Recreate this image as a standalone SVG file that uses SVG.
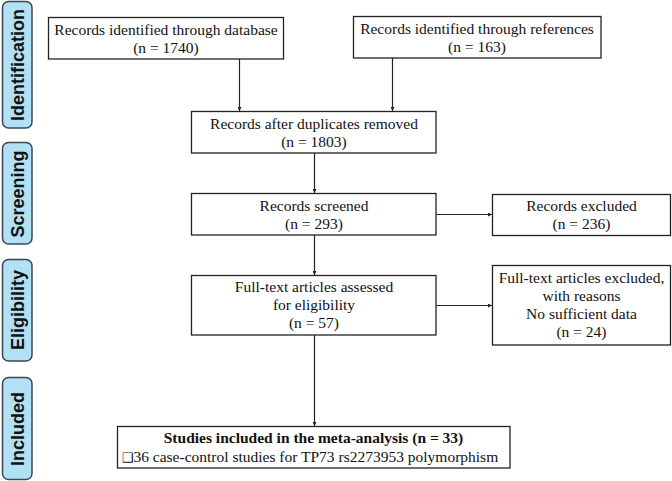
<svg xmlns="http://www.w3.org/2000/svg" width="672" height="481" viewBox="0 0 672 481">
<style>
.box{fill:#fff;stroke:#222;stroke-width:1.3}
.t{font-family:"Liberation Serif","Times New Roman",serif;font-size:15.5px;fill:#111;text-anchor:middle}
.b{font-weight:bold}
.side{fill:#b2e0f4;stroke:#3a4856;stroke-width:1.5}
.st{font-family:"Liberation Sans",Arial,sans-serif;font-size:18px;font-weight:bold;fill:#111;text-anchor:middle}
.c{stroke:#222;stroke-width:1.2;fill:none;marker-end:url(#ah)}
</style>
<defs>
<marker id="ah" viewBox="0 0 6 6" refX="6" refY="3" markerWidth="4" markerHeight="4" markerUnits="userSpaceOnUse" orient="auto">
<path d="M0,0 L6,3 L0,6 z" fill="#222"/>
</marker>
</defs>
<g id="phase-identification">
<rect class="side" x="2.5" y="1.5" width="29.5" height="126.5" rx="6"/>
<text class="st" transform="translate(23.5,65) rotate(-90)">Identification</text>
</g>
<g id="phase-screening">
<rect class="side" x="2.5" y="142.5" width="29.5" height="101.5" rx="6"/>
<text class="st" transform="translate(23.5,194) rotate(-90)">Screening</text>
</g>
<g id="phase-eligibility">
<rect class="side" x="2.5" y="259.5" width="29.5" height="101.5" rx="6"/>
<text class="st" transform="translate(23.5,310) rotate(-90)">Eligibility</text>
</g>
<g id="phase-included">
<rect class="side" x="2.5" y="377.5" width="29.5" height="102" rx="6"/>
<text class="st" transform="translate(23.5,429) rotate(-90)">Included</text>
</g>
<g id="connectors">
<line class="c" x1="239.5" y1="59" x2="239.5" y2="111"/>
<line class="c" x1="392.5" y1="58" x2="392.5" y2="111"/>
<line class="c" x1="314.5" y1="153" x2="314.5" y2="193"/>
<line class="c" x1="314.5" y1="235" x2="314.5" y2="275"/>
<line class="c" x1="436" y1="214.5" x2="492" y2="214.5"/>
<line class="c" x1="436" y1="305.5" x2="492" y2="305.5"/>
<line class="c" x1="314.5" y1="335" x2="314.5" y2="426"/>
</g>
<g id="n-database">
<rect class="box" x="48.5" y="17.5" width="235" height="41.5"/>
<text class="t" x="166" y="34.5">Records identified through database</text>
<text class="t" x="166" y="52.5">(n = 1740)</text>
</g>
<g id="n-references">
<rect class="box" x="353.5" y="16.5" width="247.5" height="41.5"/>
<text class="t" x="477" y="33.5">Records identified through references</text>
<text class="t" x="477" y="51.5">(n = 163)</text>
</g>
<g id="n-duplicates">
<rect class="box" x="191.5" y="111.5" width="244.5" height="41.5"/>
<text class="t" x="314" y="128.5">Records after duplicates removed</text>
<text class="t" x="314" y="146.5">(n = 1803)</text>
</g>
<g id="n-screened">
<rect class="box" x="191.5" y="193.5" width="244.5" height="41.5"/>
<text class="t" x="314" y="210.5">Records screened</text>
<text class="t" x="314" y="228.5">(n = 293)</text>
</g>
<g id="n-excluded">
<rect class="box" x="492.5" y="194.5" width="178" height="41"/>
<text class="t" x="581.5" y="211">Records excluded</text>
<text class="t" x="581.5" y="229">(n = 236)</text>
</g>
<g id="n-fulltext">
<rect class="box" x="191.5" y="275.5" width="244.5" height="59.5"/>
<text class="t" x="314" y="292">Full-text articles assessed</text>
<text class="t" x="314" y="310">for eligibility</text>
<text class="t" x="314" y="328">(n = 57)</text>
</g>
<g id="n-fulltext-excluded">
<rect class="box" x="492.5" y="265.5" width="178" height="79.5"/>
<text class="t" x="581.5" y="283">Full-text articles excluded,</text>
<text class="t" x="581.5" y="301">with reasons</text>
<text class="t" x="581.5" y="319">No sufficient data</text>
<text class="t" x="581.5" y="337">(n = 24)</text>
</g>
<g id="n-included">
<rect class="box" x="117.5" y="426.5" width="392.5" height="41.5"/>
<text class="t b" x="313.5" y="443">Studies included in the meta-analysis (n = 33)</text>
<text class="t" x="310" y="462"><tspan font-family="'DejaVu Sans',sans-serif" font-size="13">❑</tspan>36 case-control studies for TP73 rs2273953 polymorphism</text>
</g>
</svg>
